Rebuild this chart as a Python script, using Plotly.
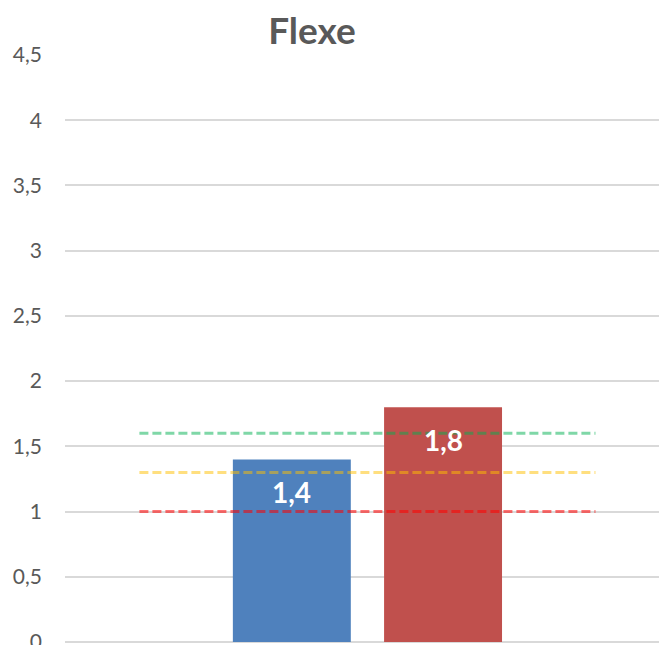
import plotly.graph_objects as go

# --- data -------------------------------------------------------------
categories = ["Flexe"]
series_names = ["Série 1", "Série 2"]
series_values = [1.4, 1.8]
threshold_names = ["Bon", "Moyen", "Faible"]
threshold_values = [1.6, 1.3, 1.0]
y_tick_values = [0, 0.5, 1, 1.5, 2, 2.5, 3, 3.5, 4, 4.5]

# --- style ------------------------------------------------------------
series_colors = ["#4F81BD", "#C0504D"]
threshold_colors = ["rgba(0,176,80,0.5)", "rgba(255,192,0,0.5)", "rgba(255,0,0,0.55)"]
FONT = "Lato"
GREY = "#595959"
GRID = "#D9D9D9"
BARGAP = 0.5
BARGROUPGAP = 0.22
X_RANGE = [-0.5, 0.482]
THRESHOLD_SPAN = 0.377


def fmt(v):
    return f"{v:g}".replace(".", ",")


fig = go.Figure()

for name, val, col in zip(series_names, series_values, series_colors):
    fig.add_trace(go.Bar(
        name=name, x=categories, y=[val],
        marker=dict(color=col, line=dict(width=0)),
        showlegend=False, hoverinfo="skip",
    ))

for name, val, col in zip(threshold_names, threshold_values, threshold_colors):
    fig.add_trace(go.Scatter(
        name=name, x=[-THRESHOLD_SPAN, THRESHOLD_SPAN], y=[val, val],
        xaxis="x2", mode="lines",
        line=dict(color=col, width=3, dash="9px,4px"),
        showlegend=False, hoverinfo="skip",
    ))

# value labels inside the top of each bar
n = len(series_values)
slot = (1 - BARGAP) / n
for i, val in enumerate(series_values):
    fig.add_annotation(
        x=(i - (n - 1) / 2) * slot, y=val, xref="x2", yref="y",
        text=f"<b>{fmt(val)}</b>", showarrow=False, yshift=-33,
        font=dict(family=FONT, size=28, color="white"),
    )

fig.update_layout(
    width=659, height=645,
    margin=dict(l=65, r=0, t=55, b=3, pad=0, autoexpand=False),
    paper_bgcolor="white", plot_bgcolor="white",
    separators=", ",
    barmode="group", bargap=BARGAP, bargroupgap=BARGROUPGAP,
    title=dict(
        text="<b>Flexe</b>", x=312 / 659, xanchor="center",
        y=1 - 31 / 645, yanchor="middle", xref="container", yref="container",
        font=dict(family=FONT, size=37, color=GREY),
    ),
    xaxis=dict(
        type="category", range=X_RANGE, showticklabels=False,
        showgrid=False, zeroline=False, showline=False, ticks="",
        automargin=False,
    ),
    xaxis2=dict(
        overlaying="x", range=X_RANGE, visible=False,
    ),
    yaxis=dict(
        range=[0, 4.5], tickvals=y_tick_values,
        ticktext=[fmt(v) for v in y_tick_values],
        showgrid=True, gridcolor=GRID, gridwidth=1.5,
        zeroline=True, zerolinecolor=GRID, zerolinewidth=1.5,
        showline=False, ticks="", ticklabelstandoff=22,
        ticklabeloverflow="allow", automargin=False,
        tickfont=dict(family=FONT, size=21, color=GREY),
    ),
)

fig.write_html("out.html")
